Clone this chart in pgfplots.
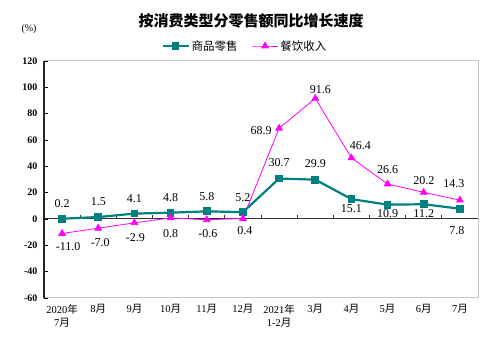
\documentclass[border=0pt]{standalone}
\usepackage{fontspec}
\setmainfont{Liberation Serif}
\newfontfamily\cjk{Noto Sans CJK SC}
\usepackage{pgfplots}
\pgfplotsset{compat=1.18}
\definecolor{tealc}{RGB}{0,128,128}
\definecolor{magc}{RGB}{255,0,255}
\begin{document}
\begin{tikzpicture}[x=1pt,y=1pt]
\path (0,0) rectangle (500,352);
\node[font=\cjk\bfseries\fontsize{15}{18}\selectfont] at (251,331) {按消费类型分零售额同比增长速度};
\node[font=\fontsize{10}{12}\selectfont] at (29,323) {(\%)};
\begin{axis}[at={(44pt,54pt)}, anchor=south west, width=434pt, height=237pt, scale only axis,
  xmin=-0.5, xmax=11.5, ymin=-60, ymax=120, ytick={-60,-40,...,120},
  xtick={0,...,11},
  xticklabels={{2020\cjk 年}\\{7\cjk 月}, {8\cjk 月}, {9\cjk 月}, {10\cjk 月}, {11\cjk 月}, {12\cjk 月}, {2021\cjk 年}\\{1-2\cjk 月}, {3\cjk 月}, {4\cjk 月}, {5\cjk 月}, {6\cjk 月}, {7\cjk 月}},
  xticklabel style={align=center, font=\fontsize{10.5}{13}\selectfont, yshift=-3pt},
  x tick style={draw=none},
  ytick pos=left, tick align=inside, major tick length=4pt,
  y tick style={black, line width=0.8pt},
  axis line style={draw=gray!45, line width=1pt},
  yticklabel style={font=\bfseries\fontsize{10}{12}\selectfont, xshift=-3pt},
  /pgf/number format/assume math mode=true,
  clip=false,
  legend columns=2,
  legend style={at={(0.463,1)}, anchor=center, yshift=15pt, draw=none, fill=none,
    font=\cjk\fontsize{11.5}{13}\selectfont, /tikz/every even column/.append style={column sep=12pt}},
  legend image code/.code={\draw[mark repeat=2,mark phase=2] plot coordinates {(0pt,0pt) (13pt,0pt) (26pt,0pt)};},
]
\draw[black!80, line width=1pt] (axis cs:-0.5,0) -- (axis cs:11.5,0);
\pgfplotsinvokeforeach{0.5,1.5,...,10.5}{\draw[black!80, line width=0.8pt] (axis cs:#1,0) -- ++(0pt,4pt);}
\addplot[tealc, line width=2.2pt, mark=square*, mark size=2.8pt, mark options={solid}] coordinates {
(0,0.2) (1,1.5) (2,4.1) (3,4.8) (4,5.8) (5,5.2) (6,30.7) (7,29.9) (8,15.1) (9,10.9) (10,11.2) (11,7.8)};
\addlegendentry{商品零售}
\addplot[magc, line width=0.8pt, mark=triangle*, mark size=3.8pt, mark options={solid}] coordinates {
(0,-11.0) (1,-7.0) (2,-2.9) (3,0.8) (4,-0.6) (5,0.4) (6,68.9) (7,91.6) (8,46.4) (9,26.6) (10,20.2) (11,14.3)};
\addlegendentry{餐饮收入}
\draw[black!85, line width=1.5pt] (rel axis cs:0,0) -- (rel axis cs:0,1);
\begin{scope}[every node/.style={font=\fontsize{12}{14}\selectfont, inner sep=0pt}]
\node[yshift=15pt] at (axis cs:0,0.2) {0.2};
\node[yshift=15pt] at (axis cs:1,1.5) {1.5};
\node[yshift=15pt] at (axis cs:2,4.1) {4.1};
\node[yshift=15pt] at (axis cs:3,4.8) {4.8};
\node[yshift=15pt] at (axis cs:4,5.8) {5.8};
\node[yshift=15pt] at (axis cs:5,5.2) {5.2};
\node[yshift=16pt] at (axis cs:6,30.7) {30.7};
\node[yshift=16pt] at (axis cs:7,29.9) {29.9};
\node[yshift=-10pt] at (axis cs:8,15.1) {15.1};
\node[yshift=-9pt] at (axis cs:9,10.9) {10.9};
\node[yshift=-9pt] at (axis cs:10,11.2) {11.2};
\node[yshift=-22pt, xshift=-3pt] at (axis cs:11,7.8) {7.8};
\node[yshift=-13.5pt, xshift=6pt] at (axis cs:0,-11.0) {-11.0};
\node[yshift=-14pt, xshift=2pt] at (axis cs:1,-7.0) {-7.0};
\node[yshift=-15pt, xshift=1pt] at (axis cs:2,-2.9) {-2.9};
\node[yshift=-16pt] at (axis cs:3,0.8) {0.8};
\node[yshift=-14pt, xshift=1pt] at (axis cs:4,-0.6) {-0.6};
\node[yshift=-12.5pt, xshift=2pt] at (axis cs:5,0.4) {0.4};
\node[yshift=-2pt, xshift=-18pt] at (axis cs:6,68.9) {68.9};
\node[yshift=9pt, xshift=5pt] at (axis cs:7,91.6) {91.6};
\node[yshift=12pt, xshift=9pt] at (axis cs:8,46.4) {46.4};
\node[yshift=14pt] at (axis cs:9,26.6) {26.6};
\node[yshift=12pt] at (axis cs:10,20.2) {20.2};
\node[yshift=17pt, xshift=-6pt] at (axis cs:11,14.3) {14.3};
\end{scope}
\end{axis}
\end{tikzpicture}
\end{document}
